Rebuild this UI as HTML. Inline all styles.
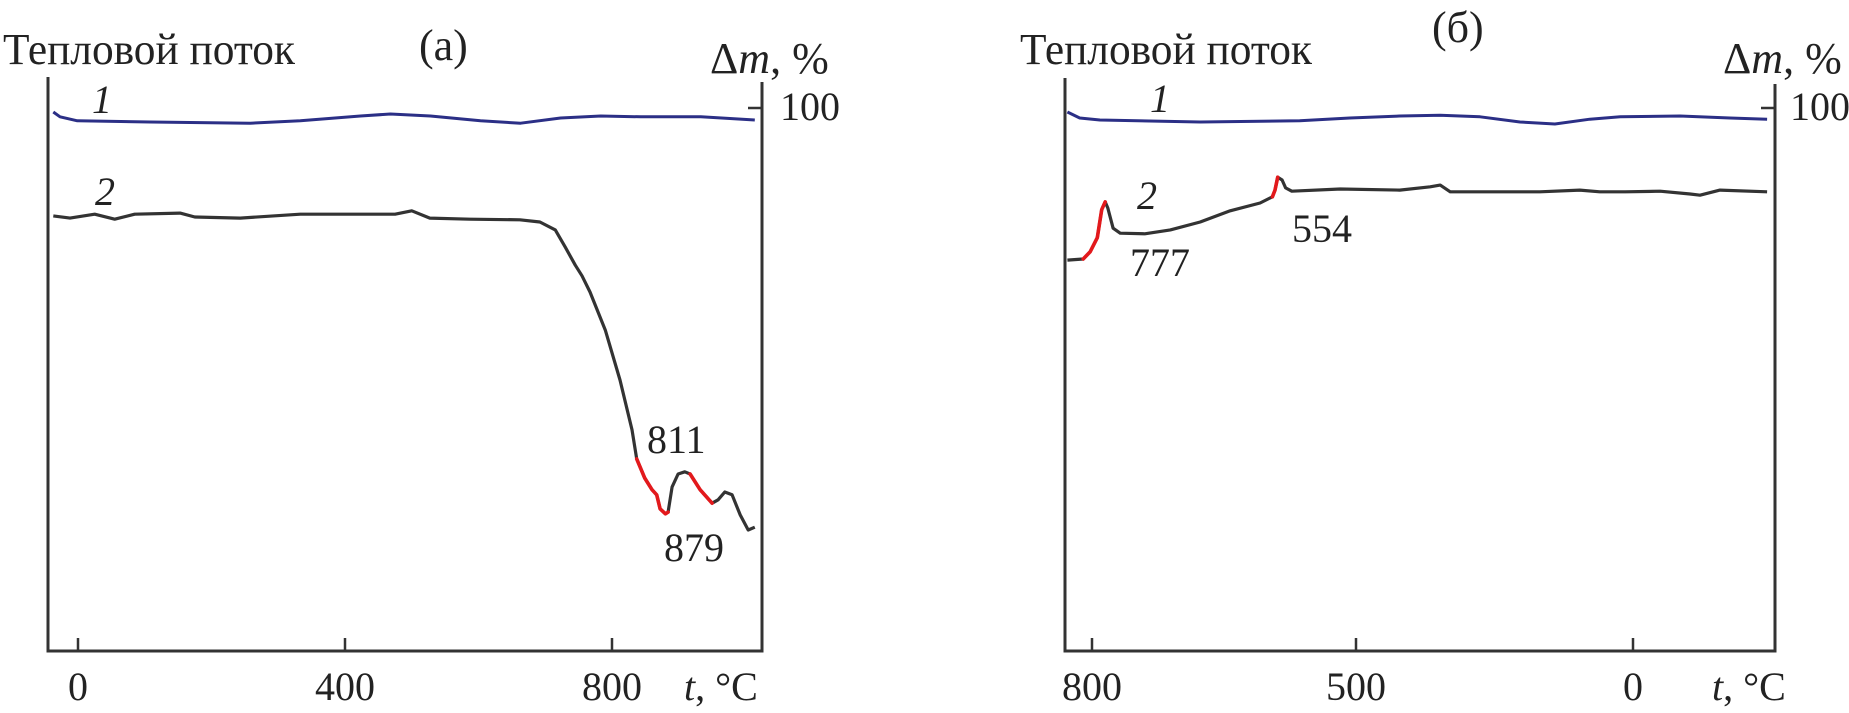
<!DOCTYPE html>
<html><head><meta charset="utf-8">
<style>
html,body{margin:0;padding:0;background:#fff;}
svg{display:block;font-family:"Liberation Serif","DejaVu Serif",serif;}
</style></head>
<body>
<svg id="chart" width="1849" height="713" viewBox="0 0 1849 713" xmlns="http://www.w3.org/2000/svg">
<g id="panelA"></g>
<g id="panelB"></g>
</svg>
<script>
// ---- Panel (a) data ----
const aTicks = [0, 400, 800];
const aTickLabels = ["0", "400", "800"];
const aMassT = [-37, -27, -1, 108, 258, 333, 423, 468, 528, 603, 663, 723, 783, 843, 933, 1014];
const aMassV = [99.5, 98.9, 98.4, 98.25, 98.1, 98.4, 99.0, 99.25, 99.0, 98.4, 98.1, 98.75, 99.0, 98.9, 98.9, 98.5];
const aHeatT = [-37,-12,25,55,85,153,175,243,333,407,475,500,527,587,662,692,715,730,745,755,767,790,812,830,837,849,860,867,872,880,884,890,899,909,917,932,950,959,969,980,992,1004,1014];
const aHeatV = [77.7,77.3,78.0,77.1,78.0,78.2,77.5,77.3,78.0,78.0,78.0,78.6,77.3,77.1,77.0,76.6,75.2,72.1,68.9,67.0,64.1,57.3,48.4,39.5,34.3,30.9,28.8,27.9,25.4,24.5,24.8,29.3,31.6,32.0,31.6,28.8,26.4,27.0,28.4,27.9,24.3,21.6,22.1];
const aRedStart = [837, 917];
const aRedEnd = [884, 950];
// ---- Panel (б) data ----
const bTicks = [800, 500, 0];
const bTickLabels = ["800", "500", "0"];
const bMassT = [828, 814, 791, 677, 564, 507, 421, 348, 276, 204, 141, 78, 23, -85, -175, -242];
const bMassV = [99.5, 98.75, 98.5, 98.25, 98.4, 98.75, 99.0, 99.1, 98.9, 98.25, 98.0, 98.6, 98.9, 99.0, 98.75, 98.6];
const bHeatT = [828,810,802,794,789,785,782,776,768,740,711,677,643,609,595,592,589,584,580,573,518,421,366,348,330,276,168,96,60,14,-49,-103,-121,-157,-242];
const bHeatV = [69.8,70.0,71.3,73.8,78.8,80.2,79.1,75.5,74.6,74.5,75.2,76.6,78.6,80.0,81.1,82.3,84.6,84.1,82.7,82.1,82.5,82.3,82.9,83.2,82.0,82.0,82.0,82.3,82.0,82.0,82.1,81.6,81.4,82.3,82.0];
const bRedStart = [810, 595];
const bRedEnd = [785, 589];

const NS = "http://www.w3.org/2000/svg";
function mk(parent, tag, attrs, text) {
  const e = document.createElementNS(NS, tag);
  for (const k in attrs) e.setAttribute(k, attrs[k]);
  if (text !== undefined) e.textContent = text;
  parent.appendChild(e);
  return e;
}
// shared vertical scales
const yHeat = v => 651 - v * 5.6;
const yMass = m => 108 + (100 - m) * 8;
// x scales
const xA = t => 78 + t * 0.6675;
const xB = t => t >= 500 ? 1356 - (t - 500) * 0.88 : 1356 + (500 - t) * 0.554;

function pathFrom(T, V, xs, ys, filt) {
  let d = "", started = false;
  for (let i = 0; i < T.length; i++) {
    if (filt && !filt(T[i])) { started = false; continue; }
    d += (started ? "L" : "M") + xs(T[i]).toFixed(1) + "," + ys(V[i]).toFixed(1);
    started = true;
  }
  return d;
}

function drawPanel(g, o) {
  const ax = mk(g, "path", {d: `M${o.x0},${o.top} L${o.x0},651 L${o.x1},651 L${o.x1},${o.rtop}`, fill: "none", stroke: "#333", "stroke-width": 3});
  
  
  const rt = mk(g, "line", {x1: o.x1 - 14, y1: 108, x2: o.x1, y2: 108, stroke: "#333", "stroke-width": 2.5});
  
  
  o.ticks.forEach((t, i) => {
    const x = o.xs(t);
    const tk = mk(g, "line", {x1: x, y1: 638, x2: x, y2: 651, stroke: "#333", "stroke-width": 2.5});
    
    
    const lb = mk(g, "text", {x: x, y: 700, "font-size": 40, "text-anchor": "middle", fill: "#222"}, o.labels[i]);
    
    
  });
  // mass curve
  const m = mk(g, "path", {d: pathFrom(o.mT, o.mV, o.xs, yMass), fill: "none", stroke: "#2b2f86", "stroke-width": 3, "stroke-linejoin": "round"});
  
  
  // heat curve
  const h = mk(g, "path", {d: pathFrom(o.hT, o.hV, o.xs, yHeat), fill: "none", stroke: "#333", "stroke-width": 3.2, "stroke-linejoin": "round"});
  
  
  o.rs.forEach((s, i) => {
    const lo = Math.min(s, o.re[i]), hi = Math.max(s, o.re[i]);
    const r = mk(g, "path", {d: pathFrom(o.hT, o.hV, o.xs, yHeat, t => t >= lo && t <= hi), fill: "none", stroke: "#e3191c", "stroke-width": 3.6, "stroke-linejoin": "round", "stroke-linecap": "round"});
    
    
  });
}

const gA = document.getElementById("panelA");
drawPanel(gA, {x0: 48, x1: 762, top: 77, rtop: 82, xs: xA, ticks: aTicks, labels: aTickLabels,
  mT: aMassT, mV: aMassV, hT: aHeatT, hV: aHeatV, rs: aRedStart, re: aRedEnd});
const gB = document.getElementById("panelB");
drawPanel(gB, {x0: 1065, x1: 1775, top: 78, rtop: 84, xs: xB, ticks: bTicks, labels: bTickLabels,
  mT: bMassT, mV: bMassV, hT: bHeatT, hV: bHeatV, rs: bRedStart, re: bRedEnd});
</script>
<g></g>
<script>
const S = document.getElementById("chart");
function txt(x, y, size, content, name, extra) {
  const e = document.createElementNS("http://www.w3.org/2000/svg", "text");
  e.setAttribute("x", x); e.setAttribute("y", y); e.setAttribute("font-size", size); e.setAttribute("fill", "#222");
  if (extra) for (const k in extra) e.setAttribute(k, extra[k]);
  e.innerHTML = content;
  
  
  S.appendChild(e);
}
txt(3, 64, 44, "Тепловой поток", "y-axis-title-heat-a", {textLength: 292, lengthAdjust: "spacingAndGlyphs"});
txt(419, 60, 44, "(a)", "panel-label-a");
txt(710, 73, 44, "Δ<tspan font-style='italic'>m</tspan>, %", "y-axis-title-mass-a");
txt(780, 120, 40, "100", "mass-tick-label-a");
txt(684, 700, 40, "<tspan font-style='italic'>t</tspan>, °C", "x-axis-title-a");
txt(92, 113, 40, "1", "curve-label-1-a", {"font-style": "italic"});
txt(95, 205, 40, "2", "curve-label-2-a", {"font-style": "italic"});
txt(647, 453, 40, "811", "peak-label-811");
txt(664, 561, 40, "879", "peak-label-879");

txt(1020, 64, 44, "Тепловой поток", "y-axis-title-heat-b", {textLength: 292, lengthAdjust: "spacingAndGlyphs"});
txt(1432, 42, 44, "(б)", "panel-label-b");
txt(1723, 73, 44, "Δ<tspan font-style='italic'>m</tspan>, %", "y-axis-title-mass-b");
txt(1790, 120, 40, "100", "mass-tick-label-b");
txt(1712, 700, 40, "<tspan font-style='italic'>t</tspan>, °C", "x-axis-title-b");
txt(1150, 112, 40, "1", "curve-label-1-b", {"font-style": "italic"});
txt(1137, 209, 40, "2", "curve-label-2-b", {"font-style": "italic"});
txt(1130, 276, 40, "777", "peak-label-777");
txt(1292, 242, 40, "554", "peak-label-554");
</script>
</body></html>
